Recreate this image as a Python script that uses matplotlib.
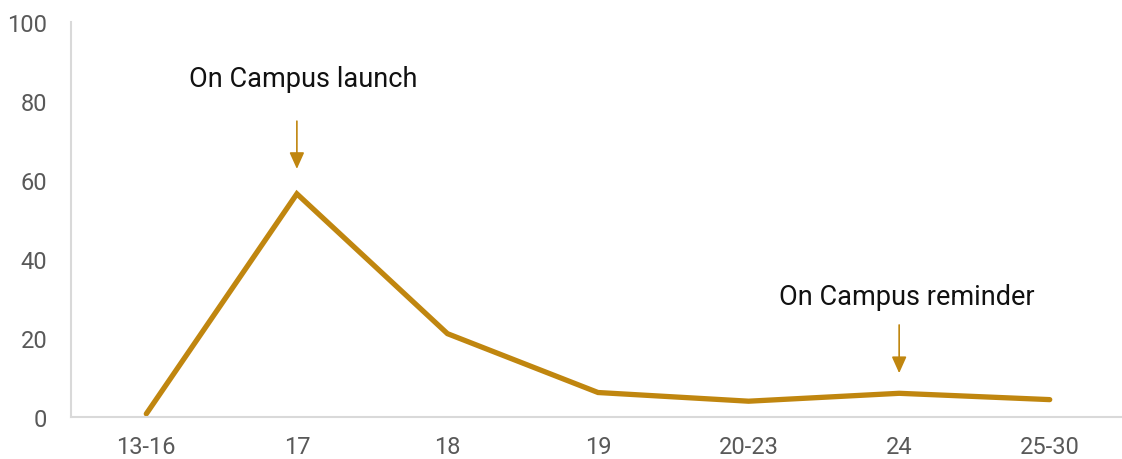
import matplotlib.pyplot as plt

weeks = ["13-16", "17", "18", "19", "20-23", "24", "25-30"]
visits = [0.8, 56.5, 21.1, 6.2, 4.0, 6.0, 4.4]

gold = "#C0860F"
grey = "#595959"

plt.rcParams["font.family"] = ["Roboto", "DejaVu Sans"]

fig = plt.figure(figsize=(11.22, 4.6), dpi=100)
ax = fig.add_axes([0.0633, 0.0913, 0.9367, 0.8587])

x = list(range(len(weeks)))
ax.plot(x, visits, color=gold, lw=3.8, solid_capstyle="round", solid_joinstyle="miter")

ax.set_xlim(-0.5, 6.48)
ax.set_ylim(0, 100)
ax.set_yticks([0, 20, 40, 60, 80, 100])
ax.set_xticks(x)
ax.set_xticklabels(weeks)
ax.tick_params(axis="both", length=0, labelsize=17, labelcolor=grey)
ax.tick_params(axis="y", pad=17)
ax.tick_params(axis="x", pad=13)

for side in ["top", "right"]:
    ax.spines[side].set_visible(False)
for side in ["left", "bottom"]:
    ax.spines[side].set_color("#D9D9D9")
    ax.spines[side].set_linewidth(1.5)

# event markers
arrow = dict(arrowstyle="-|>,head_length=1.0,head_width=0.45", color=gold, lw=1.2, shrinkA=0, shrinkB=0)
ax.annotate("", xy=(1, 62.8), xytext=(1, 74.9), arrowprops=arrow)
ax.annotate("", xy=(5, 11.1), xytext=(5, 23.3), arrowprops=arrow)
ax.text(1.04, 85.6, "On Campus launch", ha="center", va="center", fontsize=19.5, color="#111111")
ax.text(5.05, 30.6, "On Campus reminder", ha="center", va="center", fontsize=19.5, color="#111111")

fig.savefig("out.png", dpi=100)
